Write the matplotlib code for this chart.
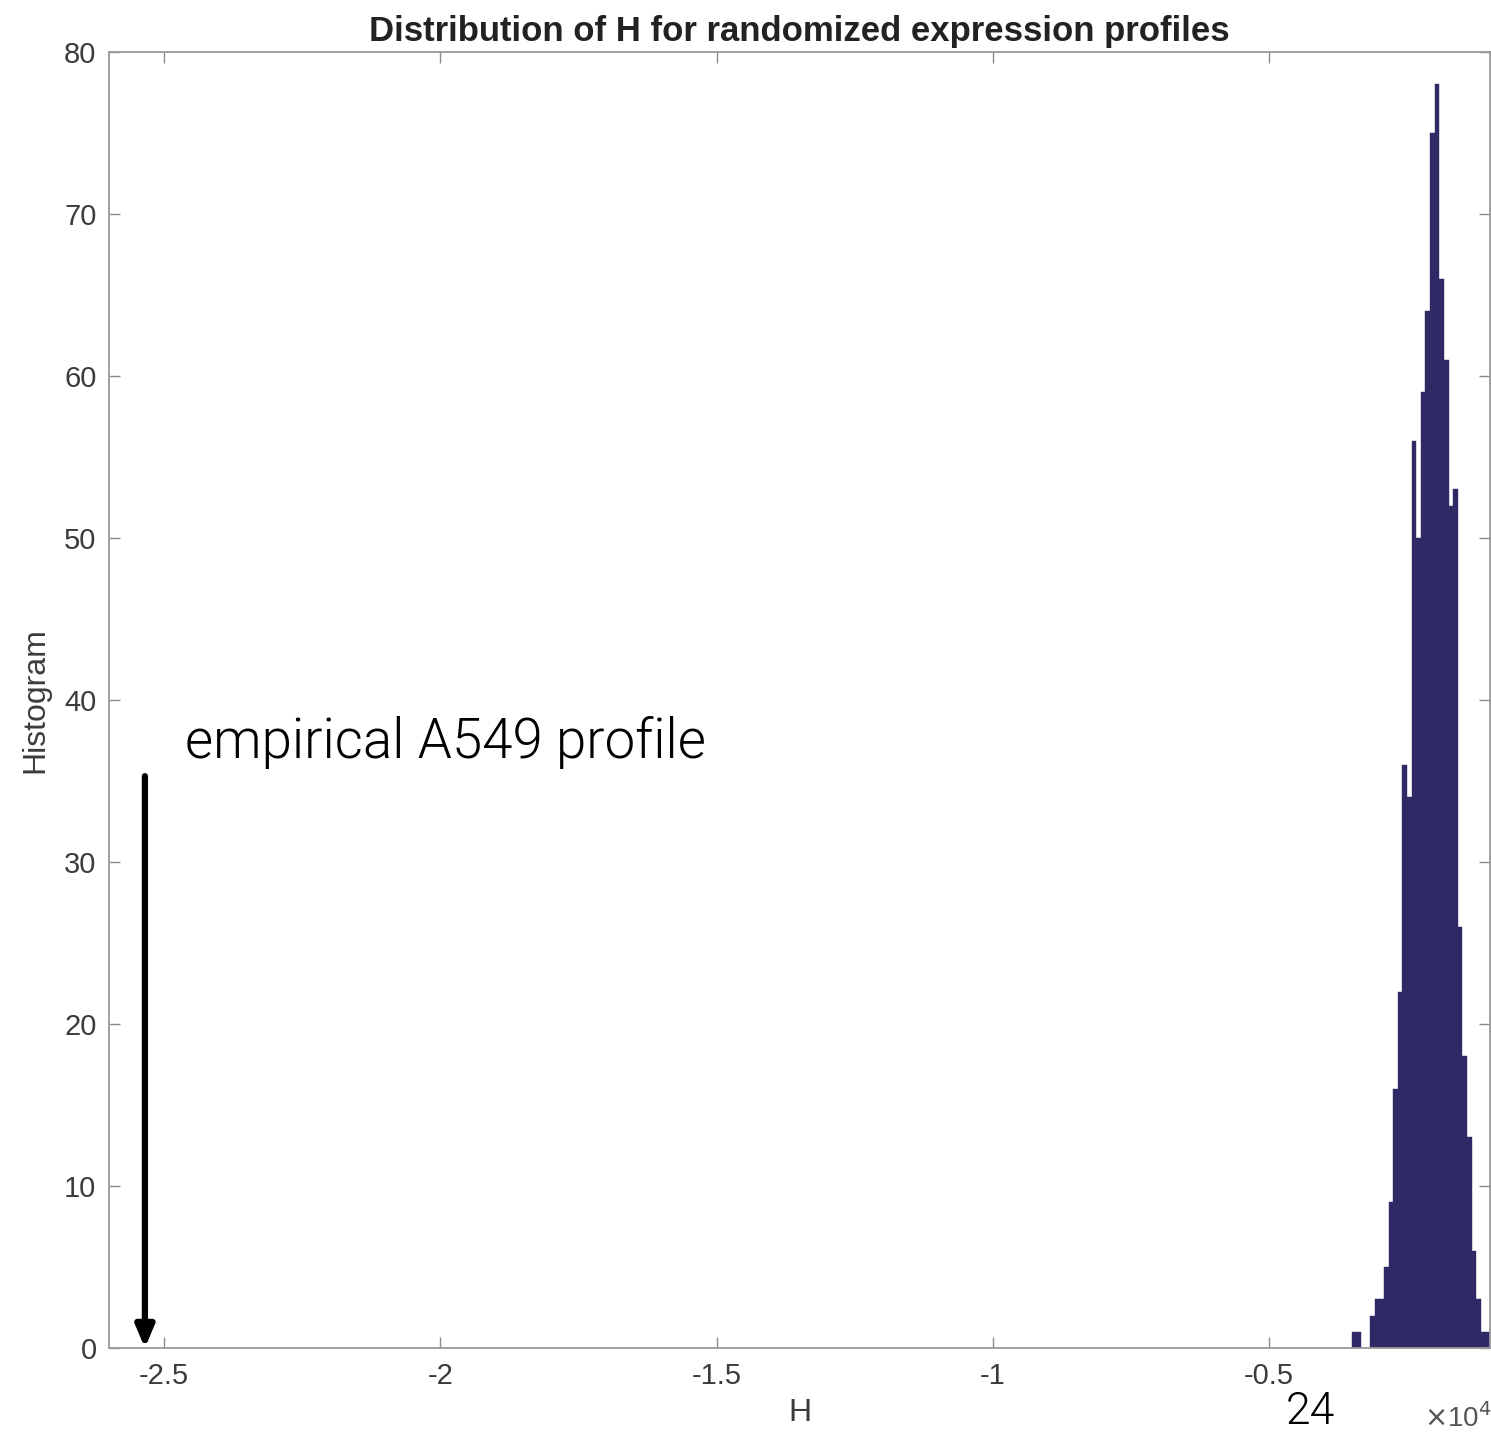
import numpy as np
import matplotlib
matplotlib.use("Agg")
import matplotlib.pyplot as plt
from matplotlib.ticker import FuncFormatter

plt.rcParams['axes.unicode_minus'] = False
plt.rcParams['font.family'] = ['Liberation Sans', 'DejaVu Sans']

# ---- data (H values in raw units; axis shows x 10^4) ----
hist_min = -3503.0
hist_max = -1000.0
n_bins = 30
counts = [1, 1, 0, 0, 2, 3, 3, 5, 9, 16,
          22, 36, 34, 56, 50, 59, 64, 75, 78, 66,
          61, 52, 53, 26, 18, 13, 6, 3, 1, 1]
empirical_H = -25350.0
x_ticks = [-2.5, -2.0, -1.5, -1.0, -0.5]
y_ticks = [0, 10, 20, 30, 40, 50, 60, 70, 80]

title = "Distribution of H for randomized expression profiles"
xlabel = "H"
ylabel = "Histogram"
annot_text = "empirical A549 profile"
slide_number = "24"

W, Hh = 1491, 1432
fig = plt.figure(figsize=(W / 100, Hh / 100), dpi=100)
ax = fig.add_axes([109 / W, (Hh - 1348) / Hh, 1381 / W, 1296 / Hh])

edges = np.linspace(hist_min, hist_max, n_bins + 1)
ax.bar(edges[:-1], counts, width=np.diff(edges), align='edge',
       color='#2f2a66', edgecolor='#2f2a66', linewidth=0.3)

ax.set_xlim(-26000, -1000)
ax.set_ylim(0, 80)
ax.set_xticks([t * 1e4 for t in x_ticks])
ax.xaxis.set_major_formatter(FuncFormatter(lambda v, p: ('%g' % (v / 1e4))))
ax.set_yticks(y_ticks)

gray = '#3c3c3c'
for s in ax.spines.values():
    s.set_color('#9a9a9a')
    s.set_linewidth(1.3)
ax.tick_params(direction='in', length=8, width=1.0, color='#8a8a8a',
               top=True, right=True, labelsize=21, labelcolor=gray)
ax.tick_params(axis='x', pad=10)
ax.tick_params(axis='y', pad=9)

ax.set_title(title, fontsize=25, fontweight='bold', color='#222222', pad=8)
ax.set_xlabel(xlabel, fontsize=23, color=gray, labelpad=6)
ax.set_ylabel(ylabel, fontsize=23, color=gray, labelpad=10)

# annotation arrow + text
ax.annotate('', xy=(empirical_H, 0.0), xytext=(empirical_H, 35.3),
            arrowprops=dict(arrowstyle='-|>,head_length=1.3,head_width=0.55',
                            color='black', lw=4.5, shrinkA=0, shrinkB=0),
            annotation_clip=False)
fig.text(185 / W, 1 - 742 / Hh, annot_text, fontsize=39.3, color='black',
         va='center', ha='left', family=['Roboto', 'Lato', 'Liberation Sans'],
         fontweight=300)

fig.text(1310 / W, 1 - 1412 / Hh, slide_number, fontsize=32, color='black',
         va='center', ha='center', family=['Roboto', 'Liberation Sans'], fontweight=300)
fig.text(1424 / W, 1 - 1418 / Hh, r'$\times$10$^4$', fontsize=20, color='#555555',
         va='center', ha='left')

fig.savefig('out.png', dpi=100)
